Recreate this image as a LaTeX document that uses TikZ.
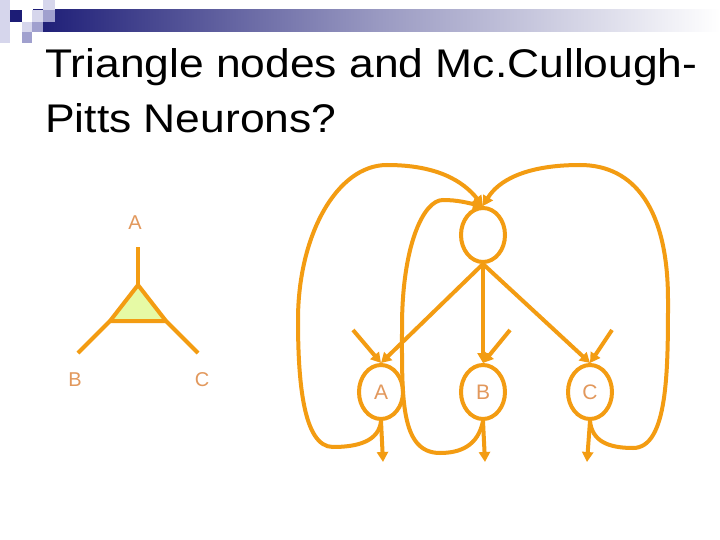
\documentclass[tikz,border=0pt]{standalone}
\usepackage{fontspec}
\setmainfont{Liberation Sans}
\usetikzlibrary{shapes.geometric,arrows.meta}
\definecolor{wireorange}{RGB}{243,156,18}
\definecolor{labeltan}{RGB}{226,152,92}
\definecolor{trifill}{RGB}{230,250,165}
\definecolor{hdnavy}{RGB}{28,28,118}
\definecolor{hdlight}{RGB}{214,214,236}
\definecolor{hdmid}{RGB}{160,160,206}

\begin{document}
\begin{tikzpicture}[x=1pt,y=-1pt,
    wire/.style={wireorange,line width=4pt},
    tip/.style={-{Triangle[length=10pt,width=11pt]}},
    neuron/.style={ellipse,draw=wireorange,line width=4pt,minimum width=44pt,minimum height=54pt,inner sep=0pt,text=labeltan,font=\fontsize{21}{21}\selectfont},
    trilabel/.style={text=labeltan,font=\fontsize{20}{20}\selectfont,inner sep=0pt},
    titletext/.style={anchor=base west,inner sep=0pt,font=\fontsize{40}{40}\selectfont}]
    \useasboundingbox (0,0) rectangle (720,540);
    \fill[white] (0,0) rectangle (720,540);
    \shade[left color=hdnavy,right color=white,middle color=hdnavy!45] (33,10) rectangle (720,32);
    \fill[hdlight] (0,0) rectangle (10,43);
    \fill[hdlight] (43,0) rectangle (55,10);
    \fill[hdlight] (32,10) rectangle (43,22);
    \fill[hdmid] (43,10) rectangle (55,22);
    \fill[hdnavy] (10,10) rectangle (22,22);
    \fill[hdlight] (22,22) rectangle (32,32);
    \fill[hdmid] (32,22) rectangle (43,32);
    \fill[hdmid] (22,32) rectangle (32,43);
    \node[titletext] (title1) at (45,78) {\scalebox{1.11}[1]{Triangle nodes and Mc.Cullough-}};
    \node[titletext] (title2) at (45,133) {\scalebox{1.11}[1]{Pitts Neurons?}};

    \node[trilabel] (ta) at (135,223) {A};
    \node[trilabel] (tb) at (75,380) {B};
    \node[trilabel] (tc) at (202,380) {C};
    \draw[wire,fill=trifill,line join=round] (138,285) -- (110,321) -- (166,321) -- cycle;
    \draw[wire] (138,247) -- (138,285);
    \draw[wire] (110,321) -- (78,353);
    \draw[wire] (166,321) -- (198,353);

    \node[neuron] (top) at (483,235) {};
    \node[neuron] (a) at (381,392) {A};
    \node[neuron] (b) at (483,392) {B};
    \node[neuron] (c) at (590,392) {C};
    \coordinate (ina) at (353,330);
    \coordinate (inb) at (510,330);
    \coordinate (inc) at (612,330);
    \coordinate (outa) at (383,462);
    \coordinate (outb) at (485,462);
    \coordinate (outc) at (587,462);

    \draw[wire,tip] (top.south) -- (a.north);
    \draw[wire,tip] (top.south) -- (b.north);
    \draw[wire,tip] (top.south) -- (c.north);
    \draw[wire,tip] (ina) -- (a.north);
    \draw[wire,tip] (inb) -- (b.north);
    \draw[wire,tip] (inc) -- (c.north);
    \draw[wire,tip] (a.south) -- (outa);
    \draw[wire,tip] (b.south) -- (outb);
    \draw[wire,tip] (c.south) -- (outc);

    \draw[wire,tip] (a.south) .. controls +(-2,20) and +(25,0) .. (333,447)
        .. controls +(-30,0) and +(0,60) .. (298,320)
        .. controls +(0,-85) and +(-50,0) .. (387,165)
        .. controls +(50,0) and +(-20,-25) .. (top.north);
    \draw[wire,tip] (b.south) .. controls +(-5,25) and +(20,0) .. (440,453)
        .. controls +(-40,0) and +(0,70) .. (402,327)
        .. controls +(0,-80) and +(-20,0) .. (443,200)
        .. controls +(15,0) and +(-15,-3) .. (top.north);
    \draw[wire,tip] (c.south) .. controls +(2,20) and +(-25,0) .. (633,448)
        .. controls +(35,0) and +(0,70) .. (668,300)
        .. controls +(0,-90) and +(55,0) .. (580,165)
        .. controls +(-55,0) and +(15,-25) .. (top.north);
\end{tikzpicture}
\end{document}
